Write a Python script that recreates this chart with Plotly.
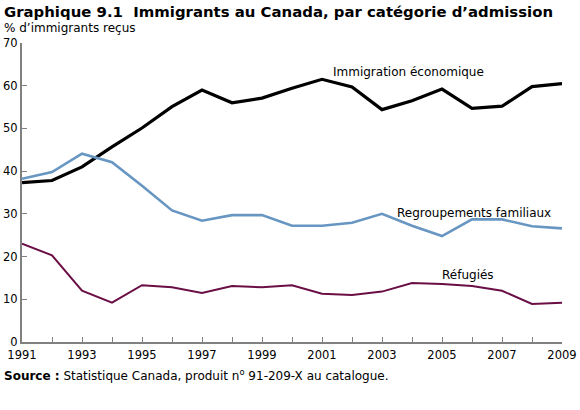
import plotly.graph_objects as go

years = list(range(1991, 2010))
economique = [37.3, 37.8, 41.0, 45.7, 50.1, 55.1, 59.0, 56.0, 57.1, 59.4, 61.5, 59.7, 54.4, 56.5, 59.2, 54.7, 55.2, 59.8, 60.5]
familiaux = [38.2, 39.8, 44.1, 42.1, 36.6, 30.8, 28.4, 29.7, 29.7, 27.2, 27.2, 27.9, 30.0, 27.2, 24.8, 28.7, 28.7, 27.1, 26.6]
refugies = [23.0, 20.3, 12.0, 9.2, 13.3, 12.8, 11.5, 13.1, 12.8, 13.3, 11.3, 11.0, 11.8, 13.8, 13.6, 13.1, 12.0, 8.9, 9.2]

series_names = ["Immigration économique", "Regroupements familiaux", "Réfugiés"]
y_ticks = [0, 10, 20, 30, 40, 50, 60, 70]
x_label_years = years[::2]
x_labels = [str(y) for y in x_label_years]

FONT = "DejaVu Sans, Verdana, sans-serif"

fig = go.Figure()
fig.add_trace(go.Scatter(x=years, y=economique, mode="lines", line=dict(color="#000000", width=3.2), name=series_names[0]))
fig.add_trace(go.Scatter(x=years, y=familiaux, mode="lines", line=dict(color="#6896c2", width=2.6), name=series_names[1]))
fig.add_trace(go.Scatter(x=years, y=refugies, mode="lines", line=dict(color="#6a0f45", width=2.0), name=series_names[2]))

PW, PH = 540, 299

fig.update_layout(
    width=580, height=410,
    margin=dict(l=22, r=18, t=43, b=68, autoexpand=False),
    plot_bgcolor="white", paper_bgcolor="white",
    showlegend=False,
    font=dict(family=FONT, size=12, color="black"),
    xaxis=dict(
        range=[1991, 2009], tickvals=x_label_years, ticktext=x_labels,
        showgrid=False, zeroline=False, showline=True, linecolor="#808080", linewidth=2,
        ticks="inside", ticklen=5, tickcolor="#808080", tickwidth=1, ticklabelstandoff=1,
        minor=dict(tick0=1991, dtick=1, ticks="inside", ticklen=5, tickcolor="#808080", tickwidth=1, showgrid=False),
        tickfont=dict(size=11.5), fixedrange=True, automargin=False,
    ),
    yaxis=dict(
        range=[0, 70], tickvals=y_ticks,
        showgrid=False, zeroline=False, showline=True, linecolor="#808080", linewidth=2,
        ticks="inside", ticklen=5, tickcolor="#808080", tickwidth=1, ticklabelstandoff=0,
        tickfont=dict(size=11.5), fixedrange=True, automargin=False,
    ),
    annotations=[
        dict(text="<b>Graphique 9.1  Immigrants au Canada, par catégorie d’admission</b>",
             xref="paper", yref="paper", x=-20/PW, y=1 + 31/PH, xanchor="left", yanchor="middle",
             showarrow=False, font=dict(size=14.9)),
        dict(text="% d’immigrants reçus",
             xref="paper", yref="paper", x=-20/PW, y=1 + 15/PH, xanchor="left", yanchor="middle",
             showarrow=False, font=dict(size=12)),
        dict(text="<b>Source :</b> Statistique Canada, produit n<sup>o</sup> 91-209-X au catalogue.",
             xref="paper", yref="paper", x=-20/PW, y=-33/PH, xanchor="left", yanchor="middle",
             showarrow=False, font=dict(size=12)),
        dict(text=series_names[0], x=2003.87, y=63.2, xref="x", yref="y",
             xanchor="center", yanchor="middle", showarrow=False, font=dict(size=12)),
        dict(text=series_names[1], x=2006.05, y=30.3, xref="x", yref="y",
             xanchor="center", yanchor="middle", showarrow=False, font=dict(size=12)),
        dict(text=series_names[2], x=2005.85, y=15.7, xref="x", yref="y",
             xanchor="center", yanchor="middle", showarrow=False, font=dict(size=12)),
    ],
)

fig.write_html("out.html", config={"displayModeBar": False},
               post_script="document.body.style.margin='0';")
